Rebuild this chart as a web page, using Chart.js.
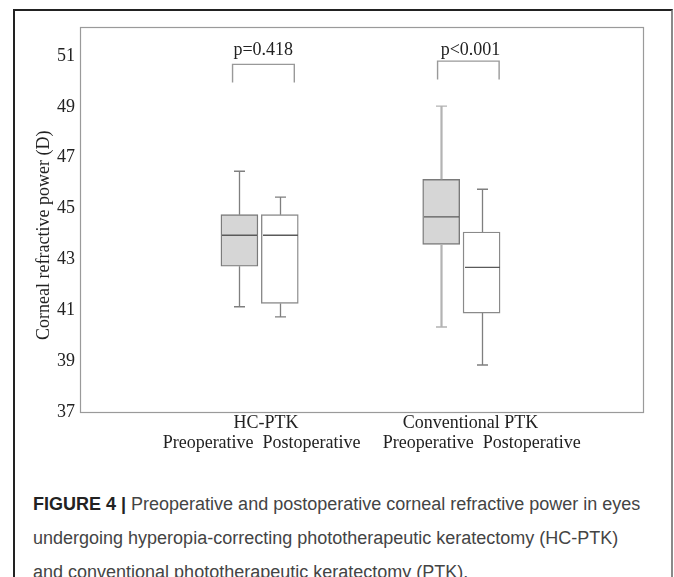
<!DOCTYPE html>
<html>
<head>
<meta charset="utf-8">
<script src="https://cdn.jsdelivr.net/npm/chart.js"></script>
<style>
  html, body { margin: 0; padding: 0; background: #fff; }
  body { width: 674px; height: 577px; position: relative; overflow: hidden; }
  #frame { position: absolute; left: 13px; top: 9px; width: 656px; height: 600px;
           border-top: 2px solid #222; border-left: 2px solid #222; border-right: 2px solid #8a8a8a; }
  #c { position: absolute; left: 0; top: 0; }
  #cap { position: absolute; left: 33px; top: 487px; width: 640px;
         font-family: 'Liberation Sans', Arial, sans-serif; font-size: 18px; line-height: 34px; color: #444; white-space: nowrap; }
  #cap b { color: #222; }
</style>
</head>
<body>
<div id="frame"></div>
<canvas id="c" width="674" height="470"></canvas>
<div id="cap"><b>FIGURE 4 |</b> Preoperative and postoperative corneal refractive power in eyes<br>undergoing hyperopia-correcting phototherapeutic keratectomy (HC-PTK)<br>and conventional phototherapeutic keratectomy (PTK).</div>
<script>
// ---- data ----
const groups = ['HC-PTK', 'Conventional PTK'];
const seriesNames = ['Preoperative', 'Postoperative'];
const groupPos = [1, 2];
const preMin = [41.14, 40.34];
const preQ1  = [42.73, 43.59];
const preMed = [43.95, 44.67];
const preQ3  = [44.76, 46.15];
const preMax = [46.47, 49.03];
const postMin = [40.74, 38.85];
const postQ1  = [41.27, 40.89];
const postMed = [43.95, 42.69];
const postQ3  = [44.76, 44.08];
const postMax = [45.45, 45.76];
const yTicks = [37, 39, 41, 43, 45, 47, 49, 51];
const pLabels = ['p=0.418', 'p<0.001'];
const yTitle = 'Corneal refractive power (D)';

// ---- layout / annotation positions (data units) ----
const seriesOffset = [-0.1, 0.1];
const xTickPos = [1.01, 2.045];
const xTickLines = [['  ' + groups[0], seriesNames[0] + '  ' + seriesNames[1]],
                    [groups[1], '     ' + seriesNames[0] + '  ' + seriesNames[1]]];
const bracketX0 = [0.866, 1.882];
const bracketX1 = [1.172, 2.187];
const bracketTop = [50.67, 50.80];
const bracketBot = [49.96, 50.08];
const pTextX = [1.018, 2.045];
const pTextY = [51.04, 51.04];

const series = [
  {min: preMin, q1: preQ1, med: preMed, q3: preQ3, max: preMax, fill: '#d6d6d6', border: '#7a7a7a',
   whisker: ['#7f7f7f', '#b3b3b3'], whiskerW: [1.3, 2.2]},
  {min: postMin, q1: postQ1, med: postMed, q3: postQ3, max: postMax, fill: '#ffffff', border: '#8a8a8a',
   whisker: ['#7f7f7f', '#7f7f7f'], whiskerW: [1.3, 1.3]}
];

const datasets = series.map((s, k) => ({
  label: seriesNames[k],
  data: groupPos.map((g, i) => ({x: g + seriesOffset[k], y: [s.q1[i], s.q3[i]]})),
  backgroundColor: s.fill,
  borderColor: s.border,
  borderWidth: 1.4,
  borderSkipped: false,
  maxBarThickness: 37,
  categoryPercentage: 1,
  barPercentage: 1
}));

const BOXW = 37, CAP = 5.5;
const boxPlugin = {
  id: 'boxParts',
  beforeDatasetsDraw(chart) {
    const {ctx, chartArea: a} = chart;
    ctx.save();
    ctx.strokeStyle = '#9a9a9a';
    ctx.lineWidth = 1.2;
    ctx.strokeRect(a.left + 0.5, a.top + 0.5, a.right - a.left, a.bottom - a.top);
    ctx.restore();
  },
  afterDatasetsDraw(chart) {
    const {ctx, scales: {x, y}} = chart;
    ctx.save();
    series.forEach((s, k) => {
      groupPos.forEach((g, i) => {
        const px = Math.round(x.getPixelForValue(g + seriesOffset[k])) + 0.5;
        ctx.strokeStyle = s.whisker[i];
        ctx.lineWidth = s.whiskerW[i];
        ctx.beginPath();
        ctx.moveTo(px, y.getPixelForValue(s.max[i]));
        ctx.lineTo(px, y.getPixelForValue(s.q3[i]));
        ctx.moveTo(px, y.getPixelForValue(s.q1[i]));
        ctx.lineTo(px, y.getPixelForValue(s.min[i]));
        ctx.stroke();
        ctx.lineWidth = 1.4;
        ctx.beginPath();
        const yMax = y.getPixelForValue(s.max[i]), yMin = y.getPixelForValue(s.min[i]);
        ctx.moveTo(px - CAP, yMax); ctx.lineTo(px + CAP, yMax);
        ctx.moveTo(px - CAP, yMin); ctx.lineTo(px + CAP, yMin);
        ctx.stroke();
        // median
        ctx.strokeStyle = '#5a5a5a';
        ctx.lineWidth = 1.3;
        ctx.beginPath();
        const yMed = y.getPixelForValue(s.med[i]);
        ctx.moveTo(px - BOXW / 2 + 1, yMed); ctx.lineTo(px + BOXW / 2 - 1, yMed);
        ctx.stroke();
      });
    });
    // brackets and p-values
    pLabels.forEach((t, i) => {
      const x0 = x.getPixelForValue(bracketX0[i]), x1 = x.getPixelForValue(bracketX1[i]);
      const yt = y.getPixelForValue(bracketTop[i]), yb = y.getPixelForValue(bracketBot[i]);
      ctx.strokeStyle = '#999';
      ctx.lineWidth = 1.4;
      ctx.beginPath();
      ctx.moveTo(x0, yb); ctx.lineTo(x0, yt); ctx.lineTo(x1, yt); ctx.lineTo(x1, yb);
      ctx.stroke();
      ctx.fillStyle = '#222';
      ctx.font = '18px "Liberation Serif"';
      ctx.textAlign = 'center';
      ctx.textBaseline = 'alphabetic';
      ctx.fillText(t, x.getPixelForValue(pTextX[i]), y.getPixelForValue(pTextY[i]));
    });
    ctx.restore();
  }
};

new Chart(document.getElementById('c'), {
  type: 'bar',
  data: {datasets},
  options: {
    responsive: false,
    devicePixelRatio: 1,
    animation: false,
    grouped: false,
    layout: {padding: {left: 33, top: 27, right: 31, bottom: 0}},
    plugins: {legend: {display: false}, tooltip: {enabled: false}},
    scales: {
      x: {
        type: 'linear',
        offset: false,
        min: 0.11, max: 2.9,
        grid: {display: false, drawTicks: false, offset: false},
        border: {display: false},
        afterBuildTicks: s => { s.ticks = xTickPos.map(v => ({value: v})); },
        afterFit: s => { s.height = 58; },
        ticks: {
          autoSkip: false, maxRotation: 0, padding: 2, color: '#222',
          font: {family: 'Liberation Serif', size: 18, lineHeight: 1.08},
          callback: (v, i) => xTickLines[i]
        }
      },
      y: {
        type: 'linear',
        min: 37, max: 52.14,
        grid: {display: false, drawTicks: false},
        border: {display: false},
        afterBuildTicks: s => { s.ticks = yTicks.map(v => ({value: v})); },
        afterFit: s => { s.width = 47; },
        ticks: {padding: 5, color: '#222', font: {family: 'Liberation Serif', size: 18}, callback: v => String(v)},
        title: {display: true, text: yTitle + '       ', color: '#222',
                font: {family: 'Liberation Serif', size: 18}, padding: {top: 0, bottom: 0}}
      }
    }
  },
  plugins: [boxPlugin]
});
</script>
</body>
</html>
